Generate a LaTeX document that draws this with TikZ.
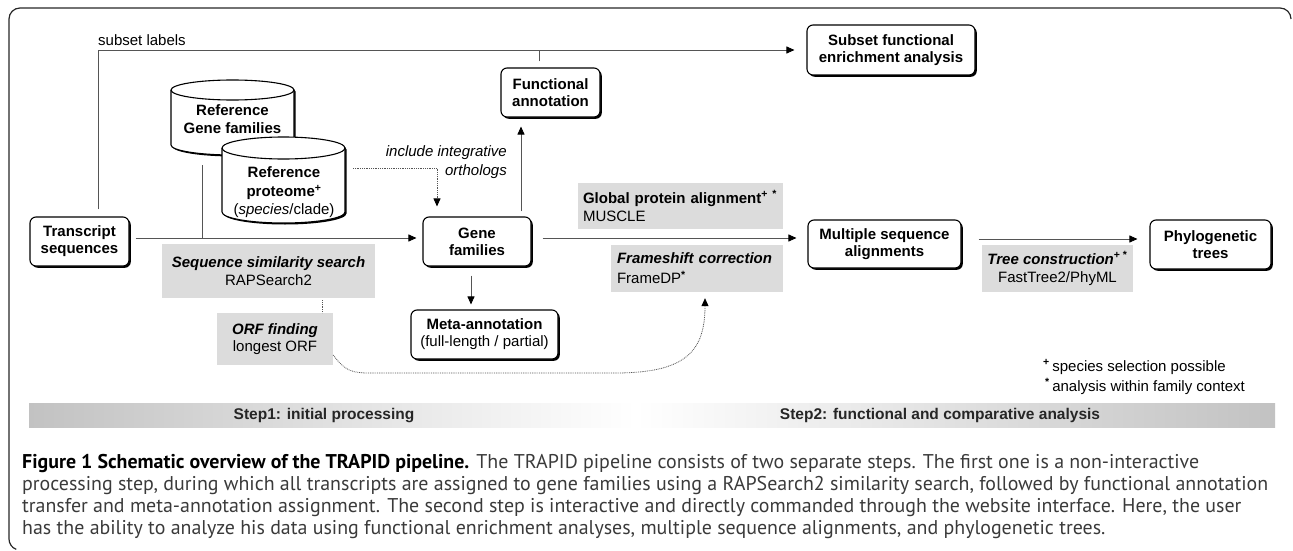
\documentclass[tikz,border=0pt]{standalone}
\usepackage{fontspec}
\setmainfont{Liberation Sans}
\newfontfamily\capfont{PT Sans}
\usetikzlibrary{arrows.meta,shadows,calc}
\definecolor{boxgray}{HTML}{DCDCDC}
\definecolor{linegray}{HTML}{555555}
\definecolor{bargray}{HTML}{C2C2C2}
\definecolor{captext}{HTML}{3A3A3A}
\newcommand{\myfs}[2]{\fontsize{#1}{#2}\selectfont}
\newcommand{\capstyle}{\capfont\myfs{18}{22}}
\newsavebox\capbox
\begin{document}
\sbox\capbox{\capstyle processing step, during which all transcripts are assigned to gene families using a RAPSearch2 similarity search, followed by functional annotation}%
\pgfmathsetmacro{\capscale}{1246/\wd\capbox}%
\begin{tikzpicture}[x=1pt,y=-1pt,
  pbox/.style={draw=black, line width=1.1pt, rounded corners=6pt, fill=white, align=center, inner sep=0pt,
    font=\bfseries\myfs{15}{17},
    drop shadow={shadow xshift=1.8pt,shadow yshift=-1.8pt,fill=black,opacity=1}},
  gbox/.style={fill=boxgray, inner sep=0pt, font=\myfs{15}{18}},
  conn/.style={draw=linegray, line width=0.9pt},
  arr/.style={conn, -{Triangle[length=8pt,width=7pt,color=black]}},
  dotconn/.style={conn, dash pattern=on 0.9pt off 0.9pt, line width=0.8pt},
  txt/.style={inner sep=0pt, font=\myfs{15}{18}},
  capline/.style={anchor=base west, inner sep=0pt, text=captext},
  cylshape/.style={draw=black, line width=1.1pt, fill=white,
    drop shadow={shadow xshift=1.5pt,shadow yshift=-1.5pt,fill=black,opacity=1}},
]
\useasboundingbox (0,0) rectangle (1293,551);

% outer frame
\draw[line width=1.2pt, black!85] (1291,19) arc[start angle=0,end angle=90,radius=11pt]
  -- (20,8) arc[start angle=90,end angle=180,radius=11pt]
  -- (9,539) arc[start angle=180,end angle=250,radius=11pt];

% step bar
\shade[left color=bargray, right color=white] (29,403) rectangle (635,427);
\shade[left color=white, right color=bargray] (635,403) rectangle (1275,427);
\node[txt, font=\bfseries\myfs{15.5}{18}, text=black!85] (step1) at (324,415.5) {Step1: initial processing};
\node[txt, font=\bfseries\myfs{15.5}{18}, text=black!85] (step2) at (940,415.5) {Step2: functional and comparative analysis};

% cylinders
\path[cylshape] (171,90) -- (171,145) arc[start angle=180,end angle=360,x radius=61.5pt,y radius=10pt]
  -- (294,90) arc[start angle=0,end angle=180,x radius=61.5pt,y radius=10pt] -- cycle;
\draw[line width=1.1pt] (171,90) arc[start angle=180,end angle=360,x radius=61.5pt,y radius=10pt];
\node[txt, font=\bfseries\myfs{15}{18}, align=center] (cyl1) at (232.5,119) {Reference\\Gene families};

\path[cylshape] (222,148) -- (222,212) arc[start angle=180,end angle=360,x radius=61.5pt,y radius=11pt]
  -- (345,148) arc[start angle=0,end angle=180,x radius=61.5pt,y radius=11pt] -- cycle;
\draw[line width=1.1pt] (222,148) arc[start angle=180,end angle=360,x radius=61.5pt,y radius=11pt];
\node[txt, font=\bfseries\myfs{15}{18}, align=center] (cyl2) at (284,192)
  {Reference\\[1pt]proteome\textsuperscript{+}\\\mdseries(\textit{species}/clade)};

% boxes
\node[pbox, minimum width=99pt, minimum height=49pt] (trans) at (79.5,241.5) {Transcript\\sequences};
\node[pbox, minimum width=108pt, minimum height=49pt] (gene) at (477,241.5) {Gene\\families};
\node[pbox, minimum width=99pt, minimum height=49pt] (func) at (550.5,92.5) {Functional\\annotation};
\node[pbox, minimum width=168pt, minimum height=50pt] (subset) at (891,50) {Subset functional\\enrichment analysis};
\node[pbox, minimum width=147pt, minimum height=49pt] (meta) at (484.5,334.5) {Meta-annotation\\\mdseries(full-length / partial)};
\node[pbox, minimum width=153pt, minimum height=48pt] (msa) at (884.5,244) {Multiple sequence\\alignments};
\node[pbox, minimum width=121pt, minimum height=49pt] (phylo) at (1210.5,244.5) {Phylogenetic\\trees};

% grey method boxes
\node[gbox, minimum width=213pt, minimum height=54pt, align=center] (simbox) at (268.5,271)
  {\bfseries\itshape Sequence similarity search\\RAPSearch2};
\node[gbox, minimum width=116pt, minimum height=52pt, align=center, font=\myfs{15}{16.5}] (orfbox) at (275,339)
  {\bfseries\itshape ORF finding\\longest ORF};
\node[gbox, text width=195pt, inner xsep=5pt, minimum height=46pt, align=left] (globbox) at (680.5,206)
  {\textbf{Global protein alignment}\textsuperscript{\textbf{+ *}}\\MUSCLE};
\node[gbox, text width=160pt, inner xsep=6pt, minimum height=47pt, align=left, font=\myfs{15}{20}] (framebox) at (697,268.5)
  {\textbf{\textit{Frameshift correction}}\\FrameDP\textsuperscript{\textbf{*}}};
\node[gbox, minimum width=151pt, minimum height=47pt, align=center] (treebox) at (1057.5,268.5)
  {\textbf{\textit{Tree construction}}\textsuperscript{\textbf{+ *}}\\FastTree2/PhyML};

% free texts
\node[txt, anchor=base west] (sublab) at (98,46) {subset labels};
\node[txt, anchor=east, align=right, font=\itshape\myfs{15}{19}] (inclab) at (507,162.5) {include integrative\\orthologs};
\node[txt, anchor=base west] (fn1) at (1043,371) {\textsuperscript{\textbf{+}}\,species selection possible};
\node[txt, anchor=base west] (fn2) at (1045,391) {\textsuperscript{\textbf{*}}\,analysis within family context};

% helper coordinates
\coordinate (mainy) at (0,238);
\coordinate (treey) at (0,239);
\coordinate (sx) at (98.5,0);
\coordinate (tx) at (539,0);
\coordinate (gfx) at (521,0);
\coordinate (gmx) at (471,0);
\coordinate (sox) at (322,0);
\coordinate (incx) at (437,0);
\coordinate (fax) at (705,0);
\coordinate (cylfoot) at (202,165);
\coordinate (inc0) at (353,168);

% connectors
\draw[arr, shorten <=7pt, shorten >=12pt] (trans.north -| sx) |- (subset.west);
\draw[conn, shorten <=6pt] (func.north -| tx) -- (tx |- subset.west);
\draw[arr, shorten <=6pt, shorten >=6pt] (trans.east |- mainy) -- (gene.west |- mainy);
\draw[conn] (cylfoot) -- (cylfoot |- mainy);
\draw[dotconn, -{Triangle[length=8pt,width=7pt,color=black]}, shorten >=10pt] (inc0) -| (incx |- gene.north);
\draw[arr, shorten <=5pt, shorten >=9pt] (gene.north -| gfx) -- (func.south -| gfx);
\draw[arr, shorten <=9pt, shorten >=5pt] (gene.south -| gmx) -- (meta.north -| gmx);
\draw[arr, shorten <=11pt, shorten >=11pt] (gene.east |- mainy) -- (msa.west |- mainy);
\draw[arr, shorten <=17pt, shorten >=12pt] (msa.east |- treey) -- (phylo.west |- treey);
\draw[dotconn, shorten <=2pt] (simbox.south -| sox) -- (orfbox.north -| sox);
\draw[dotconn, -{Triangle[length=8pt,width=7pt,color=black]}, shorten >=6pt]
  ([yshift=-16pt]orfbox.east) .. controls (345,371) and (352,373) .. (370,373) -- (615,373)
  .. controls (685,373) and (705,352) .. (framebox.south -| fax);

% caption: scaled so that the longest line spans the reference width
\node[capline] (cap1) at (22,468) {\scalebox{\capscale}{\capstyle\textcolor{black}{\bfseries Figure 1 Schematic overview of the TRAPID pipeline.} The TRAPID pipeline consists of two separate steps. The first one is a non-interactive}};
\node[capline] (cap2) at (22,490) {\scalebox{\capscale}{\capstyle processing step, during which all transcripts are assigned to gene families using a RAPSearch2 similarity search, followed by functional annotation}};
\node[capline] (cap3) at (22,512) {\scalebox{\capscale}{\capstyle transfer and meta-annotation assignment. The second step is interactive and directly commanded through the website interface. Here, the user}};
\node[capline] (cap4) at (22,534) {\scalebox{\capscale}{\capstyle has the ability to analyze his data using functional enrichment analyses, multiple sequence alignments, and phylogenetic trees.}};
\end{tikzpicture}
\end{document}
